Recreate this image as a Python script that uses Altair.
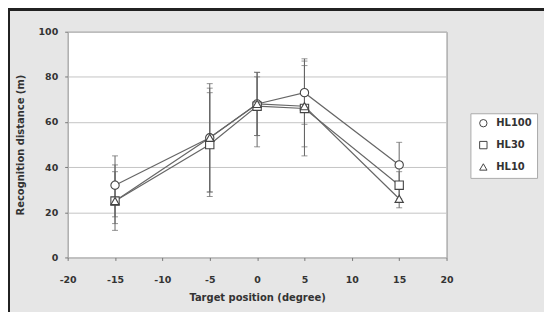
import altair as alt
import pandas as pd

positions = [-15, -5, 0, 5, 15]
series = ["HL100", "HL30", "HL10"]
means = {
    "HL100": [32, 53, 68, 73, 41],
    "HL30": [25, 50, 67, 66, 32],
    "HL10": [25, 53, 68, 67, 26],
}
lows = {
    "HL100": [18, 29, 54, 59, 31],
    "HL30": [12, 27, 54, 45, 26],
    "HL10": [15, 29, 49, 49, 22],
}
highs = {
    "HL100": [45, 77, 82, 88, 51],
    "HL30": [38, 73, 80, 87, 38],
    "HL10": [41, 75, 82, 85, 31],
}
x_ticks = [-20, -15, -10, -5, 0, 5, 10, 15, 20]
y_ticks = [0, 20, 40, 60, 80, 100]

rows = []
for s in series:
    for i, p in enumerate(positions):
        rows.append({"pos": p, "series": s, "mean": means[s][i],
                     "low": lows[s][i], "high": highs[s][i]})
df = pd.DataFrame(rows)

FONT = "DejaVu Sans"
INK = "#333333"

xscale = alt.Scale(domain=[-20, 20], nice=False, zero=False)
yscale = alt.Scale(domain=[0, 100], nice=False)

xaxis = alt.Axis(values=x_ticks, title="Target position (degree)", grid=False,
                 domain=False, tickSize=3, tickColor="#777", labelPadding=14,
                 labelFlush=False,
                 labelExpr="datum.value < 0 ? '-' + abs(datum.value) : '' + datum.value",
                 labelFont=FONT, labelFontSize=9.5, labelFontWeight="bold",
                 labelColor=INK, titleFont=FONT, titleFontSize=10,
                 titleFontWeight="bold", titleColor=INK, titlePadding=9)
yaxis = alt.Axis(values=y_ticks, title="Recognition distance (m)", grid=True,
                 gridColor="#c4c4c4", domain=False, tickSize=3, tickColor="#777",
                 labelPadding=7, labelFlush=False, labelFont=FONT, labelFontSize=9.5,
                 labelFontWeight="bold", labelColor=INK, titleFont=FONT,
                 titleFontSize=10, titleFontWeight="bold", titleColor=INK,
                 titlePadding=13)

base = alt.Chart(df)

lines = base.mark_line(color="#666", strokeWidth=1.2).encode(
    x=alt.X("pos:Q", scale=xscale, axis=xaxis),
    y=alt.Y("mean:Q", scale=yscale, axis=yaxis),
    detail="series:N",
)

bars = base.mark_rule(color="#666", strokeWidth=1).encode(
    x="pos:Q", y="low:Q", y2="high:Q",
)
cap_lo = base.mark_tick(color="#666", orient="horizontal", size=6, thickness=1).encode(
    x="pos:Q", y="low:Q")
cap_hi = base.mark_tick(color="#666", orient="horizontal", size=6, thickness=1).encode(
    x="pos:Q", y="high:Q")

legend = alt.Legend(title=None, orient="none", legendX=405, legendY=82,
                    fillColor="white", strokeColor="#aaa", padding=5,
                    rowPadding=10, symbolSize=55, symbolFillColor="white",
                    symbolStrokeWidth=1, symbolOffset=3, labelOffset=8,
                    labelFont=FONT, labelFontSize=10,
                    labelFontWeight="bold", labelColor=INK)

points = base.mark_point(fill="white", strokeWidth=1.1, size=70,
                         opacity=1, fillOpacity=1).encode(
    x="pos:Q",
    y="mean:Q",
    shape=alt.Shape("series:N",
                    scale=alt.Scale(domain=series,
                                    range=["circle", "square", "triangle-up"]),
                    legend=legend),
    stroke=alt.Stroke("series:N",
                      scale=alt.Scale(domain=series,
                                      range=["#444", "#444", "#444"]),
                      legend=legend),
)

frame_top = alt.Chart(df).mark_rule(color="#222", strokeWidth=2).encode(
    x=alt.value(-60), x2=alt.value(479), y=alt.value(-22))
frame_left = alt.Chart(df).mark_rule(color="#222", strokeWidth=2).encode(
    x=alt.value(-59), y=alt.value(-23), y2=alt.value(281))

chart = alt.layer(lines, bars, cap_lo, cap_hi, points, frame_top, frame_left).properties(
    width=381, height=227,
    padding={"left": 60, "top": 23, "right": 98, "bottom": 54},
    autosize=alt.AutoSizeParams(type="none"),
    background="#e6e6e6",
).configure_view(fill="white", stroke="#8a8a8a", strokeWidth=1)

chart.save("out.html", embed_options={"renderer": "svg", "actions": False})
